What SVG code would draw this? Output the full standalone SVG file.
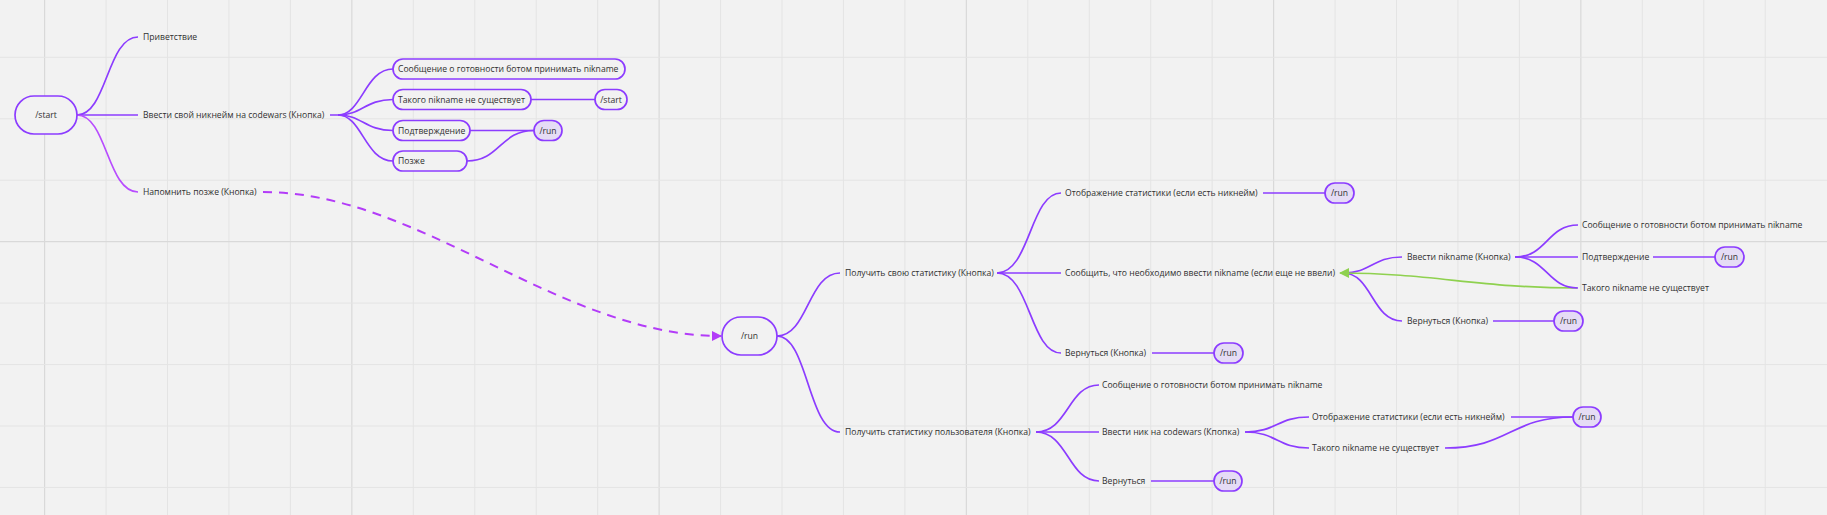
<svg xmlns="http://www.w3.org/2000/svg" width="1827" height="515" viewBox="0 0 1827 515">
<defs>
<style>
.bg{fill:#f2f2f2}
.g{stroke:#e4e4e4;stroke-width:1}
.gb{stroke:#d9d9d9;stroke-width:1.2}
.e{fill:none;stroke:#8c3cff;stroke-width:1.7}
.e2{fill:none;stroke:#b84cff;stroke-width:1.7}
.d{fill:none;stroke:#b33cf8;stroke-width:2;stroke-dasharray:9 7}
.gr{fill:none;stroke:#8fd14f;stroke-width:1.7}
.n{fill:#f2f2f2;stroke:#8c3cff;stroke-width:1.7}
.nf{fill:#e5dcf5;stroke:#8c3cff;stroke-width:1.7}
text{font-family:"Open Sans","Noto Sans","DejaVu Sans",sans-serif;font-size:8.6px;fill:#303030;dominant-baseline:central}
.c{text-anchor:middle}
</style>
<marker id="ap" viewBox="0 0 10 10" refX="9" refY="5" markerWidth="14" markerHeight="10" markerUnits="userSpaceOnUse" orient="auto"><path d="M0,0 L10,5 L0,10 z" fill="#b33cf8"/></marker>
<marker id="ag" viewBox="0 0 10 10" refX="9" refY="5" markerWidth="13" markerHeight="10" markerUnits="userSpaceOnUse" orient="auto"><path d="M0,0 L10,5 L0,10 z" fill="#8fd14f"/></marker>
</defs>
<rect class="bg" x="0" y="0" width="1827" height="515"/>
<g id="grid">
<path class="g" d="M106.05,0V515M167.5,0V515M228.95,0V515M290.4,0V515M413.3,0V515M474.75,0V515M536.2,0V515M597.65,0V515M720.55,0V515M782,0V515M843.45,0V515M904.9,0V515M1027.8,0V515M1089.25,0V515M1150.7,0V515M1212.15,0V515M1335.05,0V515M1396.5,0V515M1457.95,0V515M1519.4,0V515M1642.3,0V515M1703.75,0V515M1765.2,0V515"/>
<path class="gb" d="M44.6,0V515M351.85,0V515M659.1,0V515M966.35,0V515M1273.6,0V515M1580.85,0V515"/>
<path class="g" d="M0,57.3H1827M0,118.75H1827M0,180.2H1827M0,303.1H1827M0,364.55H1827M0,426H1827M0,487.45H1827"/>
<path class="gb" d="M0,241.65H1827"/>
</g>
<g id="connectors">
<path class="e" d="M77,115 C107,115 107,37 138,37"/>
<path class="e" d="M77,115 H138"/>
<path class="e2" d="M77,115 C107,115 107,192 138,192"/>
<path class="e" d="M330,115 H338 C362,115 365,69 393,69"/>
<path class="e" d="M338,115 C362,115 365,99.5 393,99.5"/>
<path class="e" d="M338,115 C362,115 365,130.5 393,130.5"/>
<path class="e" d="M338,115 C362,115 365,161 393,161"/>
<path class="e" d="M531,99.5 H595"/>
<path class="e" d="M470,130.5 H534"/>
<path class="e" d="M467,161 C500,161 500,130.5 534,130.5"/>
<path class="d" d="M263,192 C420,192 560,336 721,336" marker-end="url(#ap)"/>
<path class="e" d="M777,336 C808,336 808,273 840,273"/>
<path class="e" d="M777,336 C808,336 808,432 840,432"/>
<path class="e" d="M997,273 C1030,273 1030,193 1061,193"/>
<path class="e" d="M997,273 H1061"/>
<path class="e" d="M997,273 C1030,273 1030,353 1061,353"/>
<path class="e" d="M1263,193 H1325"/>
<path class="e" d="M1152,353 H1214"/>
<path class="e" d="M1343,273 C1372,273 1372,257 1402,257"/>
<path class="e" d="M1343,273 C1372,273 1372,321 1402,321"/>
<path class="gr" d="M1577,288 C1480,288 1430,273 1340,273" marker-end="url(#ag)"/>
<path class="e" d="M1515,257 C1547,257 1547,225 1578,225"/>
<path class="e" d="M1515,257 H1578"/>
<path class="e" d="M1515,257 C1547,257 1547,288 1578,288"/>
<path class="e" d="M1653,257 H1715"/>
<path class="e" d="M1493,321 H1554"/>
<path class="e" d="M1036,432 C1068,432 1068,385 1099,385"/>
<path class="e" d="M1036,432 H1099"/>
<path class="e" d="M1036,432 C1068,432 1068,481 1099,481"/>
<path class="e" d="M1151,481 H1214"/>
<path class="e" d="M1245,432 C1277,432 1277,417 1309,417"/>
<path class="e" d="M1245,432 C1277,432 1277,448 1309,448"/>
<path class="e" d="M1511,417 H1573"/>
<path class="e" d="M1445,448 C1510,448 1510,417 1573,417"/>
</g>
<g id="n-start"><rect class="n" x="15" y="96" width="62" height="38" rx="19"/><text class="c" x="46" y="115">/start</text></g>
<g id="n-hello"><text x="143" y="37">Приветствие</text></g>
<g id="n-enter"><text x="143" y="115">Ввести свой никнейм на codewars (Кнопка)</text></g>
<g id="n-later"><text x="143" y="192">Напомнить позже (Кнопка)</text></g>
<g id="n-ready1"><rect class="n" x="393" y="59" width="232" height="20" rx="10"/><text x="398" y="69">Сообщение о готовности ботом принимать nikname</text></g>
<g id="n-nonick1"><rect class="n" x="393" y="89.5" width="138" height="20" rx="10"/><text x="398" y="99.5">Такого nikname не существует</text></g>
<g id="n-start2"><rect class="n" x="595" y="89.5" width="32" height="20" rx="10"/><text class="c" x="611" y="99.5">/start</text></g>
<g id="n-confirm1"><rect class="n" x="393" y="120.5" width="77" height="20" rx="10"/><text x="398" y="130.5">Подтверждение</text></g>
<g id="n-run1"><rect class="nf" x="534" y="120.5" width="28" height="20" rx="10"/><text class="c" x="548" y="130.5">/run</text></g>
<g id="n-later2"><rect class="n" x="393" y="151" width="74" height="20" rx="10"/><text x="398" y="161">Позже</text></g>
<g id="n-run"><rect class="n" x="722" y="317" width="55" height="38" rx="19"/><text class="c" x="749.5" y="336">/run</text></g>
<g id="n-mystat"><text x="845" y="273">Получить свою статистику (Кнопка)</text></g>
<g id="n-userstat"><text x="845" y="432">Получить статистику пользователя (Кнопка)</text></g>
<g id="n-show1"><text x="1065" y="193">Отображение статистики (если есть никнейм)</text></g>
<g id="n-run2"><rect class="nf" x="1325" y="183" width="29" height="20" rx="10"/><text class="c" x="1339.5" y="193">/run</text></g>
<g id="n-tell"><text x="1065" y="273">Сообщить, что необходимо ввести nikname (если еще не ввели)</text></g>
<g id="n-back1"><text x="1065" y="353">Вернуться (Кнопка)</text></g>
<g id="n-run3"><rect class="nf" x="1214" y="343" width="29" height="20" rx="10"/><text class="c" x="1228.5" y="353">/run</text></g>
<g id="n-enternick"><text x="1407" y="257">Ввести nikname (Кнопка)</text></g>
<g id="n-ready2"><text x="1582" y="225">Сообщение о готовности ботом принимать nikname</text></g>
<g id="n-confirm2"><text x="1582" y="257">Подтверждение</text></g>
<g id="n-run4"><rect class="nf" x="1715" y="247" width="29" height="20" rx="10"/><text class="c" x="1729.5" y="257">/run</text></g>
<g id="n-nonick2"><text x="1582" y="288">Такого nikname не существует</text></g>
<g id="n-back2"><text x="1407" y="321">Вернуться (Кнопка)</text></g>
<g id="n-run5"><rect class="nf" x="1554" y="311" width="29" height="20" rx="10"/><text class="c" x="1568.5" y="321">/run</text></g>
<g id="n-ready3"><text x="1102" y="385">Сообщение о готовности ботом принимать nikname</text></g>
<g id="n-enternick2"><text x="1102" y="432">Ввести ник на codewars (Кпопка)</text></g>
<g id="n-back3"><text x="1102" y="481">Вернуться</text></g>
<g id="n-run6"><rect class="nf" x="1214" y="471" width="28" height="20" rx="10"/><text class="c" x="1228" y="481">/run</text></g>
<g id="n-show2"><text x="1312" y="417">Отображение статистики (если есть никнейм)</text></g>
<g id="n-nonick3"><text x="1312" y="448">Такого nikname не существует</text></g>
<g id="n-run7"><rect class="nf" x="1573" y="407" width="28" height="20" rx="10"/><text class="c" x="1587" y="417">/run</text></g>
</svg>
